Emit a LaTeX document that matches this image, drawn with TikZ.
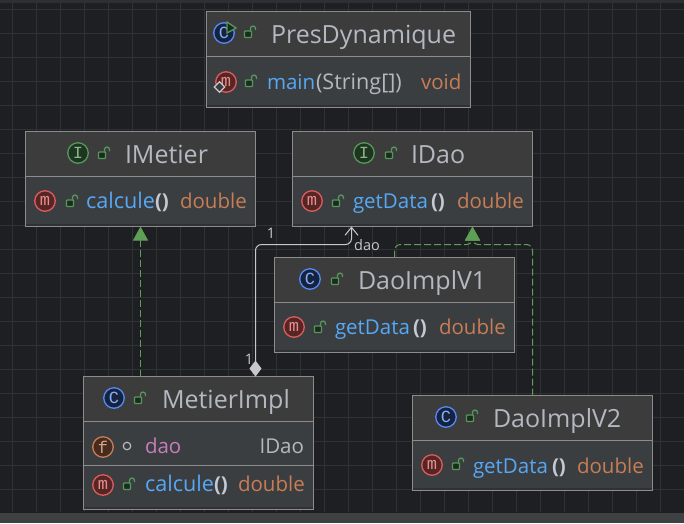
\documentclass[tikz,border=0pt]{standalone}
\usepackage{fontspec}
\setmainfont{Open Sans}
\newfontfamily\iconfont{Liberation Mono}
\usetikzlibrary{arrows.meta}

\definecolor{canvasbg}{HTML}{1E1F22}
\definecolor{gridline}{HTML}{303236}
\definecolor{statusbar}{HTML}{3F4042}
\definecolor{topstrip}{HTML}{2D2F33}
\definecolor{headfill}{HTML}{3C3C3C}
\definecolor{bodyfill}{HTML}{3B3E41}
\definecolor{bodyedge}{HTML}{2F3134}
\definecolor{umlline}{HTML}{8C8C8C}
\definecolor{titlecol}{HTML}{B4B8C0}
\definecolor{parencol}{HTML}{C4CAD4}
\definecolor{methodcol}{HTML}{56A8F5}
\definecolor{typecol}{HTML}{C77D55}
\definecolor{fieldcol}{HTML}{C77DBB}
\definecolor{redicon}{HTML}{DB5C5C}
\definecolor{blueicon}{HTML}{548AF7}
\definecolor{greenicon}{HTML}{57965C}
\definecolor{orangeicon}{HTML}{C77D55}
\definecolor{implgreen}{HTML}{5F9E55}
\definecolor{linkcol}{HTML}{C8C8C8}

% #1 name, #2 #3 centre, #4 width, #5 height, #6 header height
\newcommand{\umlbox}[6]{
  \node [umlbox, minimum width=#4pt, minimum height=#5pt] (#1) at (#2,#3) {};
  \fill [headfill] (#1.north west) rectangle ([yshift=-#6pt]#1.north east);
  \fill [bodyedge] ([yshift=3pt]#1.south west) rectangle (#1.south east);
  \draw [umlline] ([yshift=-#6pt]#1.north west) -- ([yshift=-#6pt]#1.north east);
  \draw [umlline] (#1.north west) rectangle (#1.south east);
}
% #1 name, #2 colour, #3 fill, #4 letter, #5 position
\newcommand{\umlicon}[5]{
  \node [iconmark, draw=#2, fill=#3, text=#2!70!white] (#1) at (#5) {#4};
}
\newcommand{\lockat}[1]{
  \pic at (#1) {lockmark};
}

\begin{document}
\begin{tikzpicture}[x=1pt, y=-1pt]
\tikzset{ inner sep=0pt, outer sep=0pt,
  umlbox/.style={fill=bodyfill},
  titletext/.style={anchor=base west, text=titlecol, font=\fontsize{25}{25}\selectfont},
  membertext/.style={anchor=base west, font=\fontsize{20.5}{20}\selectfont},
  widetext/.style={anchor=base west, font=\fontsize{21.6}{20}\selectfont},
  parentext/.style={anchor=base west, text=parencol, font=\fontsize{20.5}{20}\selectfont\bfseries},
  linklabel/.style={text=linkcol, font=\fontsize{14.5}{14}\selectfont},
  iconmark/.style={circle, line width=1.3pt, minimum size=20.5pt, font=\fontsize{17}{17}\iconfont},
  lockmark/.pic={
    \draw [greenicon, line width=1.3pt, fill=greenicon!30!black, rounded corners=0.8pt] (-4.5,-2) rectangle (2.5,4.5);
    \draw [greenicon, line width=1.3pt] (1.5,-2) -- (1.5,-4.5) arc (180:360:2.5) -- (6.5,-3);
  },
  realize/.style={dash pattern=on 7pt off 3pt, implgreen, line width=1pt, rounded corners=6pt,
    -{Triangle[length=14pt, width=15pt]}},
}

\useasboundingbox (0,0) rectangle (684,523);
\fill [canvasbg] (0,0) rectangle (684,523);

% background grid
\foreach \gx in {12.5,36.5,...,684} { \draw [gridline] (\gx,3) -- (\gx,512); }
\foreach \gy in {9.5,33.5,...,512} { \draw [gridline] (0,\gy) -- (684,\gy); }
\fill [topstrip] (0,0) rectangle (684,3);
\fill [statusbar] (0,513) rectangle (684,523);

\umlbox{PresDynamique}{338.5}{59.5}{264}{96}{45}
\umlbox{IMetier}{140.5}{179}{230}{95}{45}
\umlbox{IDao}{412.5}{179}{240}{95}{45}
\umlbox{DaoImplVone}{394.5}{305}{240}{95}{45}
\umlbox{MetierImpl}{198.5}{443}{230}{133}{45}
\umlbox{DaoImplVtwo}{532.5}{443}{240}{95}{45}
\draw [umlline] (83.5,465.5) -- (313.5,465.5);

% PresDynamique
\umlicon{presIcon}{blueicon}{blueicon!25!black}{C}{224,33}
\fill [greenicon!30!black, draw=greenicon, line width=1.3pt] (227,22) -- (236,28) -- (227,33) -- cycle;
\lockat{249,33}
\node [titletext] (presTitle) at (271,43) {PresDynamique};
\umlicon{mainIcon}{redicon}{redicon!40!black}{m}{226,82}
\node [draw=linkcol, fill=bodyfill, line width=1.2pt, rotate=45, minimum size=7.5pt] (mainMark) at (219.5,87) {};
\lockat{250,82}
\node [membertext, text=methodcol] (mainName) at (267,89) {main};
\node [widetext, text=titlecol] (mainArgs) at (316,89) {(String[])};
\node [membertext, text=typecol] (mainType) at (421,89) {void};

% IMetier
\umlicon{imetierIcon}{greenicon}{greenicon!35!black}{I}{78,153}
\lockat{103,154}
\node [titletext] (imetierTitle) at (125,163) {IMetier};
\umlicon{calcIcon}{redicon}{redicon!40!black}{m}{45,201}
\lockat{71,202}
\node [widetext, text=methodcol] (calcName) at (86,208) {calcule};
\node [parentext] (calcArgs) at (155,208) {()};
\node [membertext, text=typecol] (calcType) at (180,208) {double};

% IDao
\umlicon{idaoIcon}{greenicon}{greenicon!35!black}{I}{364,153}
\lockat{390,154}
\node [titletext] (idaoTitle) at (411,163) {IDao};
\umlicon{idaoM}{redicon}{redicon!40!black}{m}{312,201}
\lockat{337,202}
\node [membertext, text=methodcol] (idaoName) at (353,208) {getData};
\node [parentext] (idaoArgs) at (431,208) {()};
\node [membertext, text=typecol] (idaoType) at (457,208) {double};

% DaoImplV1
\umlicon{voneIcon}{blueicon}{blueicon!25!black}{C}{310,279}
\lockat{336,280}
\node [titletext] (voneTitle) at (358,289) {DaoImplV1};
\umlicon{voneM}{redicon}{redicon!40!black}{m}{294,327}
\lockat{319,328}
\node [membertext, text=methodcol] (voneName) at (335,334) {getData};
\node [parentext] (voneArgs) at (413,334) {()};
\node [membertext, text=typecol] (voneType) at (439,334) {double};

% MetierImpl
\umlicon{implIcon}{blueicon}{blueicon!25!black}{C}{114,398}
\lockat{139,399}
\node [titletext] (implTitle) at (162,408) {MetierImpl};
\umlicon{daoIcon}{orangeicon}{orangeicon!35!black}{f}{103,447}
\node [circle, draw=titlecol, line width=1.2pt, minimum size=7.5pt] (daoMark) at (127,446) {};
\node [membertext, text=fieldcol] (daoName) at (145,453) {dao};
\node [membertext, text=titlecol, anchor=base east] (daoType) at (304,453) {IDao};
\umlicon{implM}{redicon}{redicon!40!black}{m}{103,485}
\lockat{128,485}
\node [widetext, text=methodcol] (implName) at (145,491) {calcule};
\node [parentext] (implArgs) at (214,491) {()};
\node [membertext, text=typecol] (implType) at (238,491) {double};

% DaoImplV2
\umlicon{vtwoIcon}{blueicon}{blueicon!25!black}{C}{446,417}
\lockat{471,417}
\node [titletext] (vtwoTitle) at (493,427) {DaoImplV2};
\umlicon{vtwoM}{redicon}{redicon!40!black}{m}{432,465}
\lockat{457,465}
\node [membertext, text=methodcol] (vtwoName) at (473,473) {getData};
\node [parentext] (vtwoArgs) at (552,473) {()};
\node [membertext, text=typecol] (vtwoType) at (577,473) {double};

% links
\coordinate (implTop) at ([xshift=-58pt]MetierImpl.north);
\coordinate (imetierTip) at (IMetier.south);
\draw [realize] (implTop) -- (imetierTip);

\coordinate (voneTop) at (DaoImplVone.north);
\coordinate (vtwoTop) at (DaoImplVtwo.north);
\coordinate (idaoTip) at ([xshift=60pt]IDao.south);
\coordinate (voneBend) at (394.5,244.5);
\coordinate (vtwoBend) at (532.5,244.5);
\coordinate (idaoBus) at (472.5,244.5);
\draw [realize] (voneTop) -- (voneBend) -- (idaoBus) -- (idaoTip);
\draw [realize] (vtwoTop) -- (vtwoBend) -- (idaoBus) -- (idaoTip);

\coordinate (implDiamond) at ([xshift=57pt]MetierImpl.north);
\coordinate (daoCorner) at (255.5,244.5);
\coordinate (daoBus) at (351.5,244.5);
\coordinate (daoTip) at ([xshift=-61pt]IDao.south);
\draw [linkcol, line width=1pt, rounded corners=6pt,
  {Diamond[length=16pt, width=12pt]}-{Straight Barb[length=8pt, width=13pt]}]
  (implDiamond) -- (daoCorner) -- (daoBus) -- (daoTip);

\node [linklabel] (oneTop) at (271,233) {1};
\node [linklabel] (daoRole) at (367,245) {dao};
\node [linklabel] (oneBottom) at (249,359) {1};

\end{tikzpicture}
\end{document}
